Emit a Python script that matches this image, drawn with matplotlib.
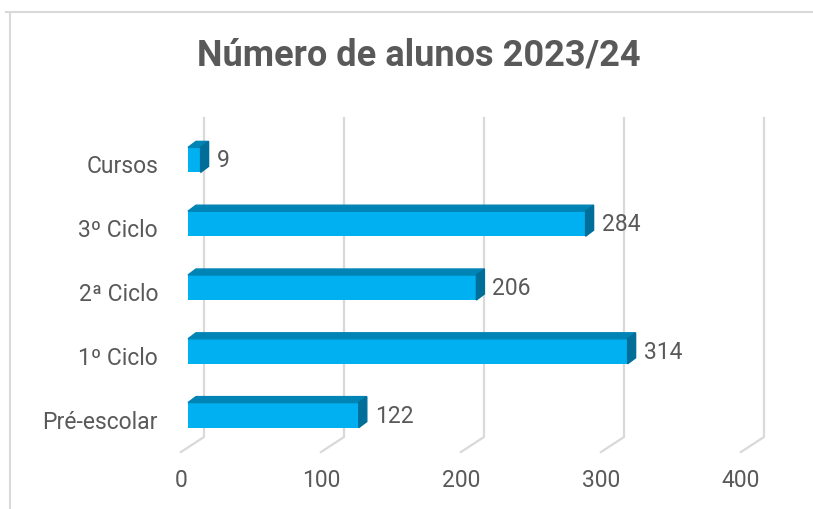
import matplotlib
matplotlib.use("Agg")
import matplotlib.pyplot as plt
from matplotlib.patches import Polygon
from matplotlib.lines import Line2D

categories = ["Pré-escolar", "1º Ciclo", "2ª Ciclo", "3º Ciclo", "Cursos"]
values = [122, 314, 206, 284, 9]
ticks = [0, 100, 200, 300, 400]
title = "Número de alunos 2023/24"

txt = "#595959"
grid_c = "#d9d9d9"
front_c = "#00b0f0"
top_c = "#0083b5"
side_c = "#006e98"

plt.rcParams['font.family'] = ['Roboto', 'DejaVu Sans']

W, H = 813, 510
fig = plt.figure(figsize=(W / 100, H / 100), dpi=100)
# plot area: value 0 -> x=188px, 400 -> 748px; categories centred 416..161px
ax = fig.add_axes([188 / W, 1 - 448 / H, 560 / W, 319 / H])
ax.set_xlim(0, 400)
ax.set_ylim(-0.5, 4.5)
ax.axis('off')

xu = 400 / 560   # value units per pixel
yu = 5 / 319     # category units per pixel

# 3d-style gridlines: back wall + floor
for t in ticks:
    ax.plot([t - 7 * xu, t + 16 * xu, t + 16 * xu],
            [-0.5 - 5 * yu, -0.5 + 10 * yu, 4.5 + 10 * yu],
            color=grid_c, lw=1.6, clip_on=False, zorder=1)
    ax.text(t - 7 * xu, -0.5 - 33 * yu, str(t), ha='center', va='center',
            fontsize=16.5, color=txt)

bh = 25 * yu
dx = 8 * xu
dy = 6 * yu
for i, (c, v) in enumerate(zip(categories, values)):
    y0, y1 = i - bh / 2, i + bh / 2
    ax.barh(i, v, height=bh, left=0, color=front_c, zorder=3)
    ax.add_patch(Polygon([(0, y1), (v, y1), (v + dx, y1 + dy), (dx, y1 + dy)],
                         closed=True, color=top_c, zorder=3, clip_on=False))
    ax.add_patch(Polygon([(v, y0), (v, y1), (v + dx, y1 + dy), (v + dx, y0 + dy)],
                         closed=True, color=side_c, zorder=3, clip_on=False))
    ax.text(v + 16 * xu, i, str(v), ha='left', va='center',
            fontsize=16.5, color=txt)
    # category labels sit a little lower (floor position in the 3d view)
    ax.text(-30 * xu, i - 6 * yu, c, ha='right', va='center', fontsize=16.5, color=txt)

fig.text(419 / W, 1 - 56 / H, title, ha='center', va='center',
         fontsize=26, fontweight='bold', color=txt)

# chart border (top and left visible)
fig.add_artist(Line2D([6 / W, 1], [1 - 13 / H, 1 - 13 / H], color=grid_c, lw=1.5))
fig.add_artist(Line2D([10 / W, 10 / W], [0, 1 - 13 / H], color=grid_c, lw=1.5))

fig.savefig("out.png", dpi=100)
